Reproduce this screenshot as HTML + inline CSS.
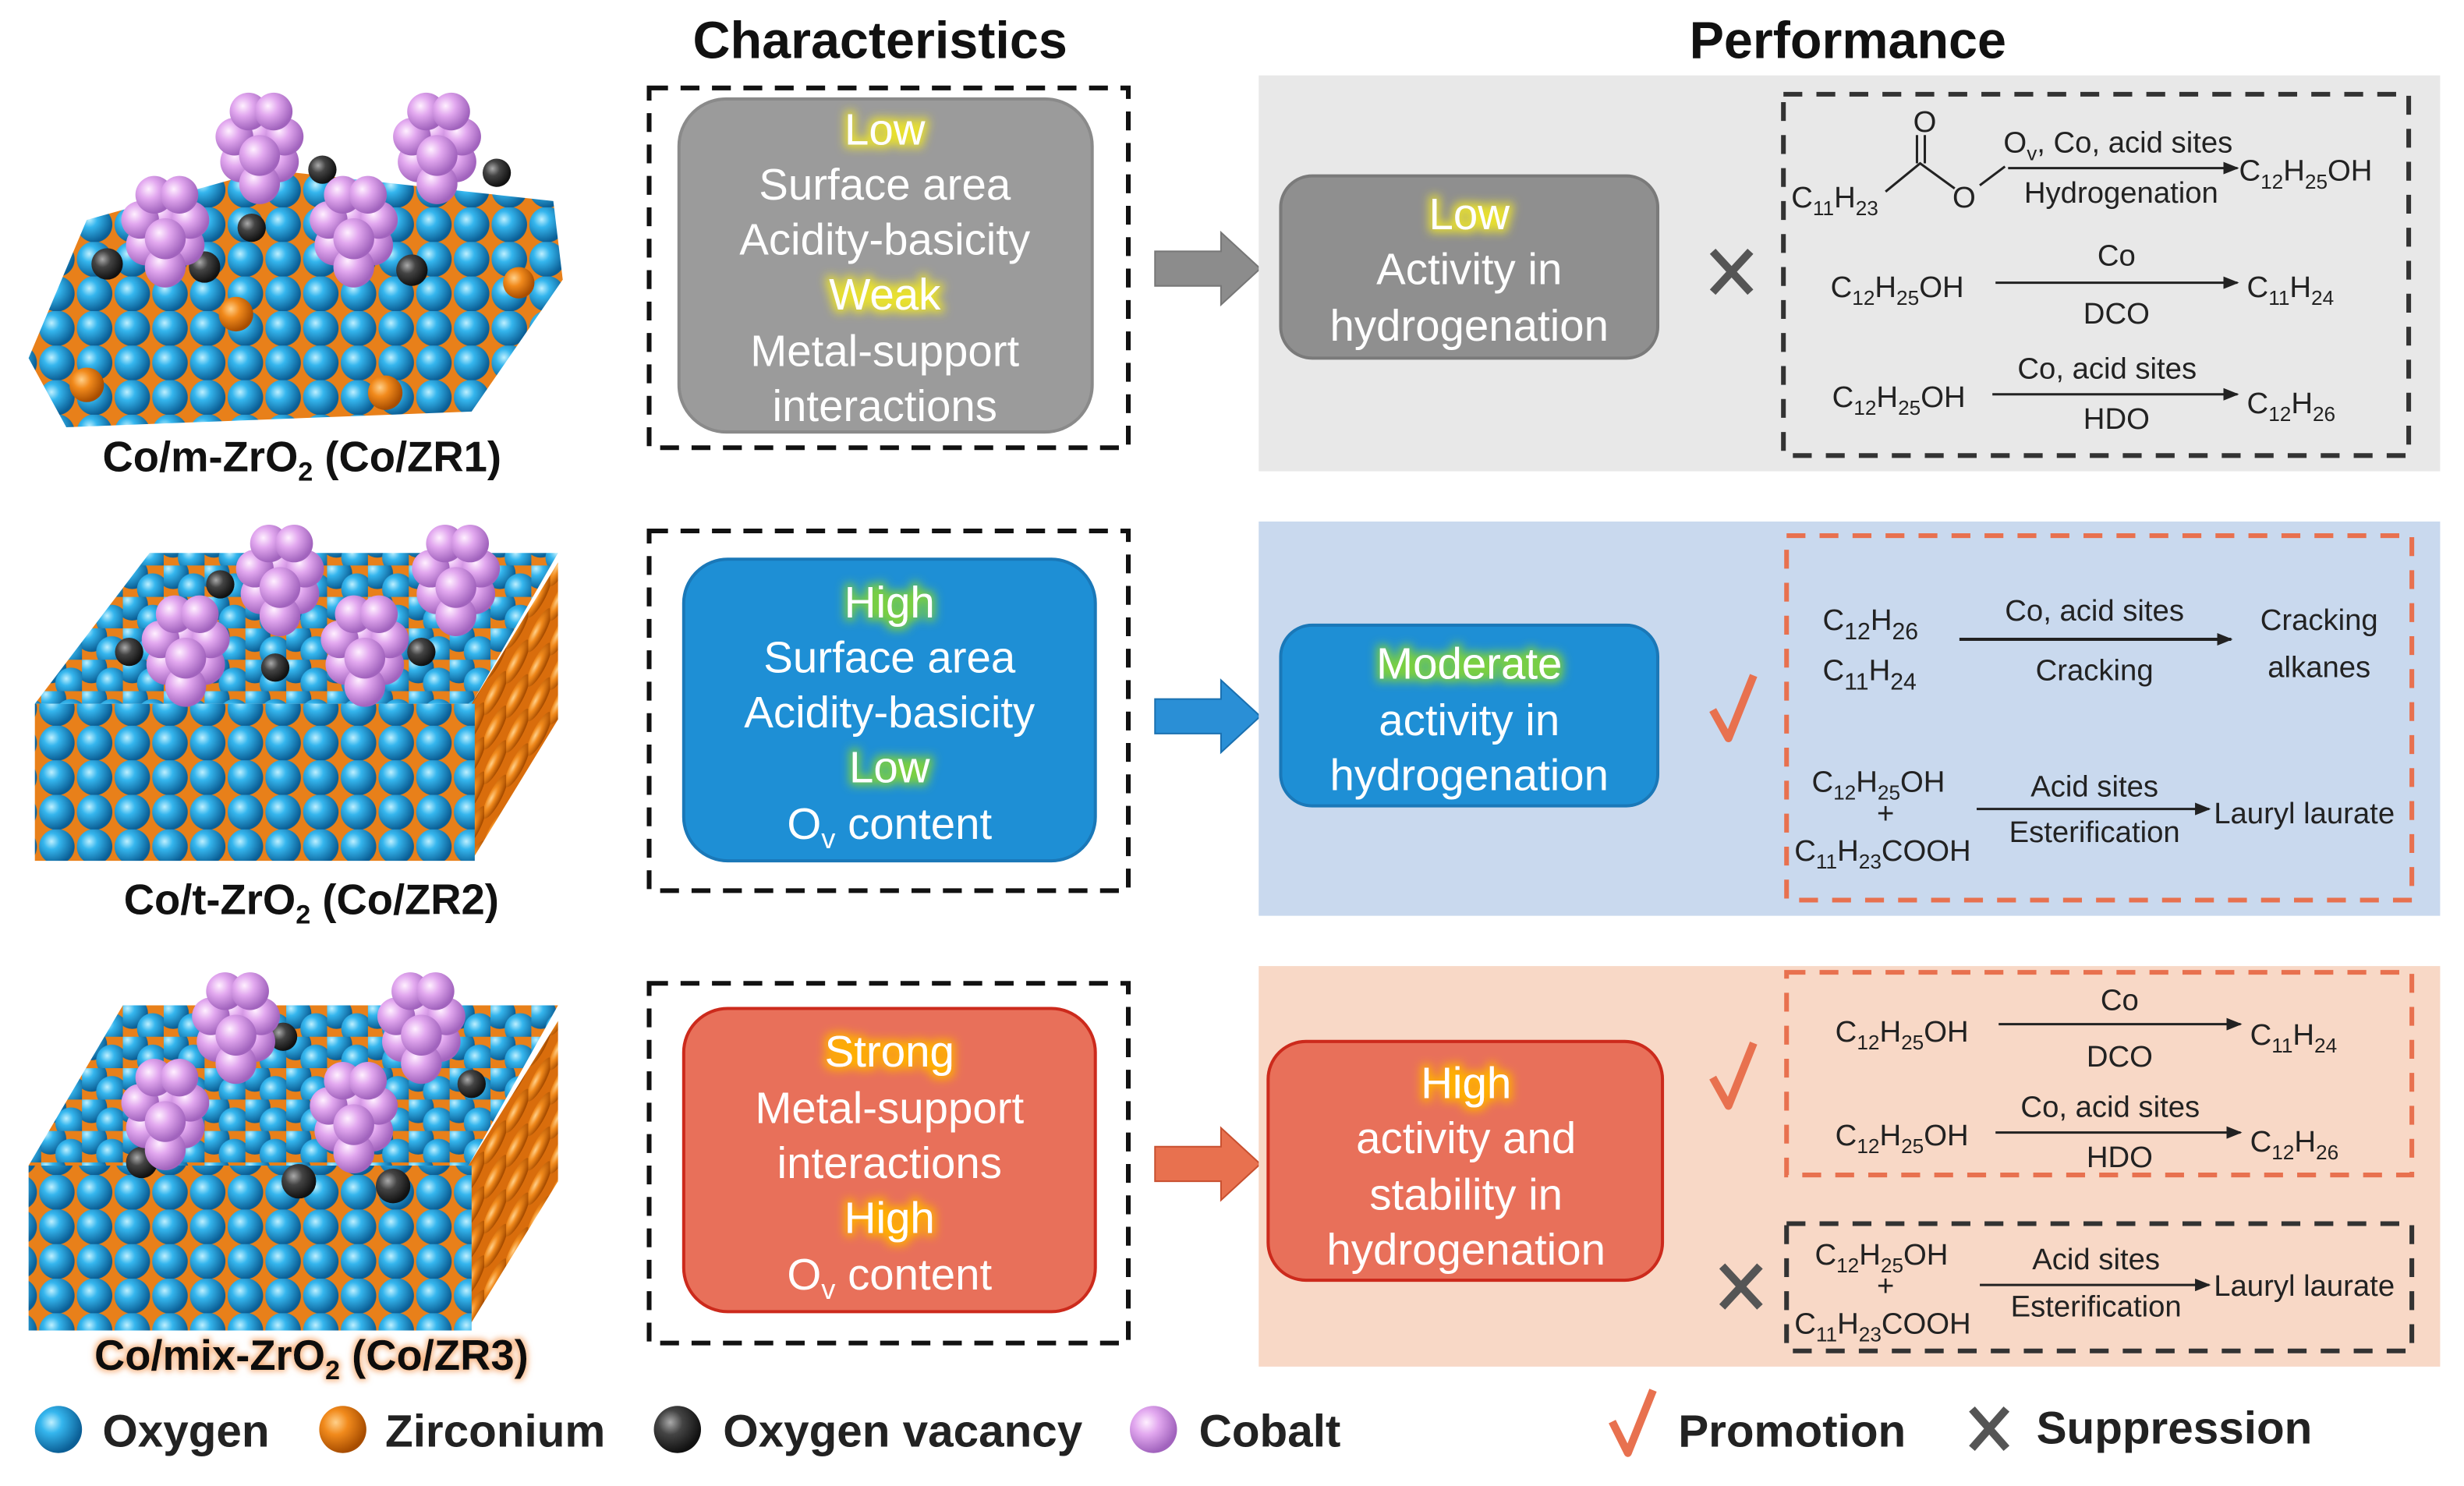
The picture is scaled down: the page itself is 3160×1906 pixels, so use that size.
<!DOCTYPE html>
<html><head><meta charset="utf-8"><style>
html,body{margin:0;padding:0;background:#fff;}
svg{display:block;}
text{font-family:"Liberation Sans",Arial,sans-serif;}
.t{font-size:28px;fill:#fff;text-anchor:middle;}
.h{font-size:33px;font-weight:bold;fill:#111;text-anchor:middle;}
.r{font-family:"Liberation Sans Narrow","Liberation Sans",sans-serif;font-size:19px;fill:#222;}
.rc{font-family:"Liberation Sans Narrow","Liberation Sans",sans-serif;font-size:19px;fill:#222;text-anchor:middle;}
.lg{font-size:29px;font-weight:bold;fill:#222;}
.lb{font-size:27px;font-weight:bold;fill:#111;text-anchor:middle;}
</style></head><body>
<svg width="3160" height="1906" viewBox="0 0 1568 946" xmlns="http://www.w3.org/2000/svg">
<defs>
<radialGradient id="gb" cx="35%" cy="35%" r="65%"><stop offset="0" stop-color="#bff0ff"/><stop offset="0.35" stop-color="#35b6ee"/><stop offset="1" stop-color="#0b5f96"/></radialGradient>
<radialGradient id="go" cx="35%" cy="35%" r="65%"><stop offset="0" stop-color="#ffd08a"/><stop offset="0.4" stop-color="#f18a1c"/><stop offset="1" stop-color="#a84d00"/></radialGradient>
<radialGradient id="gp" cx="35%" cy="35%" r="65%"><stop offset="0" stop-color="#fff0ff"/><stop offset="0.4" stop-color="#e2a8ef"/><stop offset="1" stop-color="#a163bd"/></radialGradient>
<radialGradient id="gd" cx="35%" cy="35%" r="65%"><stop offset="0" stop-color="#aaa"/><stop offset="0.4" stop-color="#444"/><stop offset="1" stop-color="#111"/></radialGradient>
<pattern id="ox" width="24" height="22" patternUnits="userSpaceOnUse"><rect width="24" height="22" fill="#e8801a"/><circle cx="12" cy="11" r="11.3" fill="url(#gb)"/></pattern>
<pattern id="oxs" width="26" height="20" patternUnits="userSpaceOnUse"><rect width="26" height="20" fill="#e8801a"/><circle cx="6" cy="5" r="10" fill="url(#gb)"/><circle cx="19" cy="15" r="10" fill="url(#gb)"/></pattern>
<pattern id="side" width="14" height="22" patternUnits="userSpaceOnUse" patternTransform="skewY(-55)"><rect width="14" height="22" fill="#d96d0c"/><circle cx="7" cy="11" r="8" fill="url(#go)"/></pattern>
<g id="cl"><circle cx="-12" cy="8" r="13" fill="url(#gp)"/><circle cx="12" cy="8" r="13" fill="url(#gp)"/><circle cx="0" cy="-10" r="13" fill="url(#gp)"/><circle cx="-16" cy="-8" r="12" fill="url(#gp)"/><circle cx="16" cy="-8" r="12" fill="url(#gp)"/><circle cx="0" cy="22" r="13" fill="url(#gp)"/><circle cx="-7" cy="-24" r="12" fill="url(#gp)"/><circle cx="9" cy="-24" r="12" fill="url(#gp)"/><circle cx="0" cy="4" r="13" fill="url(#gp)"/></g>
<filter id="gy" x="-30%" y="-30%" width="160%" height="160%"><feMorphology operator="dilate" radius="2" in="SourceAlpha" result="d"/><feGaussianBlur in="d" stdDeviation="3" result="b"/><feFlood flood-color="#e8e030"/><feComposite in2="b" operator="in" result="g"/><feMerge><feMergeNode in="g"/><feMergeNode in="SourceGraphic"/></feMerge></filter>
<filter id="gg" x="-30%" y="-30%" width="160%" height="160%"><feMorphology operator="dilate" radius="2" in="SourceAlpha" result="d"/><feGaussianBlur in="d" stdDeviation="3" result="b"/><feFlood flood-color="#7bd040"/><feComposite in2="b" operator="in" result="g"/><feMerge><feMergeNode in="g"/><feMergeNode in="SourceGraphic"/></feMerge></filter>
<filter id="gr" x="-30%" y="-30%" width="160%" height="160%"><feMorphology operator="dilate" radius="2" in="SourceAlpha" result="d"/><feGaussianBlur in="d" stdDeviation="3" result="b"/><feFlood flood-color="#ffb000"/><feComposite in2="b" operator="in" result="g"/><feMerge><feMergeNode in="g"/><feMergeNode in="SourceGraphic"/></feMerge></filter>
<filter id="gl" x="-10%" y="-30%" width="120%" height="160%"><feMorphology operator="dilate" radius="1" in="SourceAlpha" result="d"/><feGaussianBlur in="d" stdDeviation="2" result="b"/><feFlood flood-color="#f5a060" flood-opacity="0.8"/><feComposite in2="b" operator="in" result="g"/><feMerge><feMergeNode in="g"/><feMergeNode in="SourceGraphic"/></feMerge></filter>
<marker id="ah" markerWidth="10" markerHeight="8" refX="9" refY="4" orient="auto" markerUnits="userSpaceOnUse"><path d="M0,0 L10,4 L0,8 z" fill="#222"/></marker>
</defs>

<!-- titles -->
<text class="h" x="560" y="37">Characteristics</text>
<text class="h" x="1176" y="37">Performance</text>

<!-- structures row1 -->
<polygon points="18,228 55,140 170,108 352,128 358,178 300,262 42,272" fill="url(#ox)"/>
<g fill="url(#gd)"><circle cx="68" cy="168" r="10"/><circle cx="130" cy="170" r="10"/><circle cx="262" cy="172" r="10"/><circle cx="316" cy="110" r="9"/><circle cx="205" cy="108" r="9"/><circle cx="160" cy="145" r="9"/></g>
<g fill="url(#go)"><circle cx="55" cy="245" r="11"/><circle cx="150" cy="200" r="11"/><circle cx="245" cy="250" r="11"/><circle cx="330" cy="180" r="10"/></g>
<use href="#cl" x="165" y="95"/><use href="#cl" x="278" y="95"/><use href="#cl" x="105" y="148"/><use href="#cl" x="225" y="148"/>
<text class="lb" x="192" y="300">Co/m-ZrO<tspan font-size="17" dy="6">2</tspan><tspan dy="-6"> (Co/ZR1)</tspan></text>

<!-- structures row2 -->
<polygon points="300,448 355,358 355,458 300,548" fill="url(#side)"/>
<rect x="22" y="448" width="280" height="100" fill="url(#ox)"/>
<polygon points="22,448 95,352 355,352 300,448" fill="url(#oxs)"/>
<g fill="url(#gd)"><circle cx="140" cy="372" r="9"/><circle cx="82" cy="415" r="9"/><circle cx="175" cy="425" r="9"/><circle cx="268" cy="415" r="9"/></g>
<use href="#cl" x="178" y="370"/><use href="#cl" x="290" y="370"/><use href="#cl" x="118" y="415"/><use href="#cl" x="232" y="415"/>
<text class="lb" x="198" y="582">Co/t-ZrO<tspan font-size="17" dy="6">2</tspan><tspan dy="-6"> (Co/ZR2)</tspan></text>

<!-- structures row3 -->
<polygon points="298,742 355,650 355,752 298,845" fill="url(#side)"/>
<rect x="18" y="742" width="282" height="105" fill="url(#ox)"/>
<polygon points="18,742 78,640 355,640 298,742" fill="url(#oxs)"/>
<g fill="url(#gd)"><circle cx="190" cy="752" r="11"/><circle cx="250" cy="755" r="11"/><circle cx="90" cy="740" r="10"/><circle cx="180" cy="660" r="9"/><circle cx="300" cy="690" r="9"/></g>
<use href="#cl" x="150" y="655"/><use href="#cl" x="268" y="655"/><use href="#cl" x="105" y="710"/><use href="#cl" x="225" y="712"/>
<text class="lb" x="198" y="872" filter="url(#gl)">Co/mix-ZrO<tspan font-size="17" dy="6">2</tspan><tspan dy="-6"> (Co/ZR3)</tspan></text>

<!-- characteristic boxes -->
<g fill="none" stroke="#111" stroke-width="3" stroke-dasharray="12,8">
<rect x="413" y="56" width="305" height="229"/>
<rect x="413" y="338" width="305" height="229"/>
<rect x="413" y="626" width="305" height="229"/>
</g>
<rect x="432" y="63" width="263" height="212" rx="30" fill="#9b9b9b" stroke="#8a8a8a" stroke-width="2"/>
<rect x="435" y="356" width="262" height="192" rx="28" fill="#1e8fd5" stroke="#1a78b8" stroke-width="2"/>
<rect x="435" y="642" width="262" height="193" rx="28" fill="#e8705a" stroke="#cc2a1c" stroke-width="2"/>
<text class="t" x="563" y="92" fill="#fffbd0" filter="url(#gy)">Low</text>
<text class="t" x="563" y="127">Surface area</text>
<text class="t" x="563" y="162">Acidity-basicity</text>
<text class="t" x="563" y="197" fill="#fffbd0" filter="url(#gy)">Weak</text>
<text class="t" x="563" y="233">Metal-support</text>
<text class="t" x="563" y="268">interactions</text>
<text class="t" x="566" y="393" fill="#eaffe0" filter="url(#gg)">High</text>
<text class="t" x="566" y="428">Surface area</text>
<text class="t" x="566" y="463">Acidity-basicity</text>
<text class="t" x="566" y="498" fill="#eaffe0" filter="url(#gg)">Low</text>
<text class="t" x="566" y="534">O<tspan font-size="18" dy="6">v</tspan><tspan dy="-6"> content</tspan></text>
<text class="t" x="566" y="679" fill="#fff5c0" filter="url(#gr)">Strong</text>
<text class="t" x="566" y="715">Metal-support</text>
<text class="t" x="566" y="750">interactions</text>
<text class="t" x="566" y="785" fill="#fff5c0" filter="url(#gr)">High</text>
<text class="t" x="566" y="821">O<tspan font-size="18" dy="6">v</tspan><tspan dy="-6"> content</tspan></text>

<!-- arrows -->
<polygon points="735,160 777,160 777,148 802,171 777,194 777,182 735,182" fill="#8c8c8c" stroke="#777"/>
<polygon points="735,445 777,445 777,433 802,456 777,479 777,467 735,467" fill="#2a8fd6" stroke="#1a70b0"/>
<polygon points="735,730 777,730 777,718 802,741 777,764 777,752 735,752" fill="#e8714f" stroke="#c85030"/>

<!-- performance panels -->
<rect x="801" y="48" width="752" height="252" fill="#e8e8e8"/>
<rect x="801" y="332" width="752" height="251" fill="#c9d9ee"/>
<rect x="801" y="615" width="752" height="255" fill="#f8d8c6"/>

<rect x="815" y="112" width="240" height="116" rx="20" fill="#8f8f8f" stroke="#7a7a7a" stroke-width="2"/>
<rect x="815" y="398" width="240" height="115" rx="20" fill="#1e8fd5" stroke="#1a78b8" stroke-width="2"/>
<rect x="807" y="663" width="251" height="152" rx="24" fill="#e8705a" stroke="#cc2a1c" stroke-width="2"/>
<text class="t" x="935" y="146" fill="#fffbd0" filter="url(#gy)">Low</text>
<text class="t" x="935" y="181">Activity in</text>
<text class="t" x="935" y="217">hydrogenation</text>
<text class="t" x="935" y="432" fill="#eaffe0" filter="url(#gg)">Moderate</text>
<text class="t" x="935" y="468">activity in</text>
<text class="t" x="935" y="503">hydrogenation</text>
<text class="t" x="933" y="699" fill="#fff5c0" filter="url(#gr)">High</text>
<text class="t" x="933" y="734">activity and</text>
<text class="t" x="933" y="770">stability in</text>
<text class="t" x="933" y="805">hydrogenation</text>

<!-- marks -->
<g stroke="#555" stroke-width="5"><path d="M1090,160 L1114,186 M1114,160 L1090,186"/><path d="M1096,806 L1120,832 M1120,806 L1096,832"/></g>
<g stroke="#e8714f" stroke-width="5" fill="none" stroke-linejoin="round"><path d="M1090,452 L1100,470 L1116,430"/><path d="M1090,686 L1100,704 L1116,664"/></g>

<!-- reaction boxes -->
<g fill="none" stroke-width="3" stroke-dasharray="12,9">
<rect x="1135" y="60" width="398" height="230" stroke="#333"/>
<rect x="1137" y="341" width="398" height="232" stroke="#e8714f"/>
<rect x="1137" y="619" width="398" height="129" stroke="#e8714f"/>
<rect x="1137" y="779" width="398" height="81" stroke="#333"/>
</g>

<g stroke="#222" stroke-width="1.5" fill="none">
<path d="M1200,122 L1222,104 L1244,120 M1260,118 L1276,106"/>
<path d="M1220,104 L1220,86 M1225,104 L1225,86"/>
<line x1="1278" y1="107" x2="1424" y2="107" marker-end="url(#ah)"/>
<line x1="1270" y1="180" x2="1424" y2="180" marker-end="url(#ah)"/>
<line x1="1268" y1="251" x2="1424" y2="251" marker-end="url(#ah)"/>
<line x1="1247" y1="407" x2="1420" y2="407" marker-end="url(#ah)" stroke-width="2"/>
<line x1="1258" y1="515" x2="1406" y2="515" marker-end="url(#ah)"/>
<line x1="1272" y1="652" x2="1426" y2="652" marker-end="url(#ah)"/>
<line x1="1270" y1="721" x2="1426" y2="721" marker-end="url(#ah)"/>
<line x1="1260" y1="818" x2="1406" y2="818" marker-end="url(#ah)"/>
</g>
<text class="rc" x="1225" y="84">O</text>
<text class="rc" x="1250" y="132">O</text>
<text class="r" x="1140" y="132">C<tspan font-size="13" dy="5">11</tspan><tspan dy="-5">H</tspan><tspan font-size="13" dy="5">23</tspan></text>
<text class="rc" x="1348" y="97">O<tspan font-size="13" dy="5">v</tspan><tspan dy="-5">, Co, acid sites</tspan></text>
<text class="rc" x="1350" y="129">Hydrogenation</text>
<text class="r" x="1425" y="115">C<tspan font-size="13" dy="5">12</tspan><tspan dy="-5">H</tspan><tspan font-size="13" dy="5">25</tspan><tspan dy="-5">OH</tspan></text>

<text class="r" x="1165" y="189">C<tspan font-size="13" dy="5">12</tspan><tspan dy="-5">H</tspan><tspan font-size="13" dy="5">25</tspan><tspan dy="-5">OH</tspan></text>
<text class="rc" x="1347" y="169">Co</text>
<text class="rc" x="1347" y="206">DCO</text>
<text class="r" x="1430" y="189">C<tspan font-size="13" dy="5">11</tspan><tspan dy="-5">H</tspan><tspan font-size="13" dy="5">24</tspan></text>

<text class="r" x="1166" y="259">C<tspan font-size="13" dy="5">12</tspan><tspan dy="-5">H</tspan><tspan font-size="13" dy="5">25</tspan><tspan dy="-5">OH</tspan></text>
<text class="rc" x="1341" y="241">Co, acid sites</text>
<text class="rc" x="1347" y="273">HDO</text>
<text class="r" x="1430" y="263">C<tspan font-size="13" dy="5">12</tspan><tspan dy="-5">H</tspan><tspan font-size="13" dy="5">26</tspan></text>

<text class="r" x="1160" y="401" font-size="23">C<tspan font-size="15" dy="6">12</tspan><tspan dy="-6">H</tspan><tspan font-size="15" dy="6">26</tspan></text>
<text class="r" x="1160" y="433" font-size="23">C<tspan font-size="15" dy="6">11</tspan><tspan dy="-6">H</tspan><tspan font-size="15" dy="6">24</tspan></text>
<text class="rc" x="1333" y="395" font-size="23">Co, acid sites</text>
<text class="rc" x="1333" y="433" font-size="23">Cracking</text>
<text class="rc" x="1476" y="401" font-size="23">Cracking</text>
<text class="rc" x="1476" y="431" font-size="23">alkanes</text>

<text class="r" x="1153" y="504">C<tspan font-size="13" dy="5">12</tspan><tspan dy="-5">H</tspan><tspan font-size="13" dy="5">25</tspan><tspan dy="-5">OH</tspan></text>
<text class="rc" x="1200" y="524" font-size="16">+</text>
<text class="r" x="1142" y="548">C<tspan font-size="13" dy="5">11</tspan><tspan dy="-5">H</tspan><tspan font-size="13" dy="5">23</tspan><tspan dy="-5">COOH</tspan></text>
<text class="rc" x="1333" y="507">Acid sites</text>
<text class="rc" x="1333" y="536">Esterification</text>
<text class="r" x="1409" y="524">Lauryl laurate</text>

<text class="r" x="1168" y="663">C<tspan font-size="13" dy="5">12</tspan><tspan dy="-5">H</tspan><tspan font-size="13" dy="5">25</tspan><tspan dy="-5">OH</tspan></text>
<text class="rc" x="1349" y="643">Co</text>
<text class="rc" x="1349" y="679">DCO</text>
<text class="r" x="1432" y="665">C<tspan font-size="13" dy="5">11</tspan><tspan dy="-5">H</tspan><tspan font-size="13" dy="5">24</tspan></text>

<text class="r" x="1168" y="729">C<tspan font-size="13" dy="5">12</tspan><tspan dy="-5">H</tspan><tspan font-size="13" dy="5">25</tspan><tspan dy="-5">OH</tspan></text>
<text class="rc" x="1343" y="711">Co, acid sites</text>
<text class="rc" x="1349" y="743">HDO</text>
<text class="r" x="1432" y="733">C<tspan font-size="13" dy="5">12</tspan><tspan dy="-5">H</tspan><tspan font-size="13" dy="5">26</tspan></text>

<text class="r" x="1155" y="805">C<tspan font-size="13" dy="5">12</tspan><tspan dy="-5">H</tspan><tspan font-size="13" dy="5">25</tspan><tspan dy="-5">OH</tspan></text>
<text class="rc" x="1200" y="825" font-size="16">+</text>
<text class="r" x="1142" y="849">C<tspan font-size="13" dy="5">11</tspan><tspan dy="-5">H</tspan><tspan font-size="13" dy="5">23</tspan><tspan dy="-5">COOH</tspan></text>
<text class="rc" x="1334" y="808">Acid sites</text>
<text class="rc" x="1334" y="838">Esterification</text>
<text class="r" x="1409" y="825">Lauryl laurate</text>

<!-- legend -->
<circle cx="37" cy="910" r="15" fill="url(#gb)"/>
<text class="lg" x="65" y="921">Oxygen</text>
<circle cx="218" cy="910" r="15" fill="url(#go)" />
<text class="lg" x="245" y="921">Zirconium</text>
<circle cx="431" cy="910" r="15" fill="url(#gd)"/>
<text class="lg" x="460" y="921">Oxygen vacancy</text>
<circle cx="734" cy="910" r="15" fill="url(#gp)"/>
<text class="lg" x="763" y="921">Cobalt</text>
<path d="M1026,905 L1036,925 L1052,885" stroke="#e8714f" stroke-width="5" fill="none" stroke-linejoin="round"/>
<text class="lg" x="1068" y="921">Promotion</text>
<path d="M1255,897 L1277,922 M1277,897 L1255,922" stroke="#555" stroke-width="5"/>
<text class="lg" x="1296" y="919">Suppression</text>
</svg>
</body></html>
